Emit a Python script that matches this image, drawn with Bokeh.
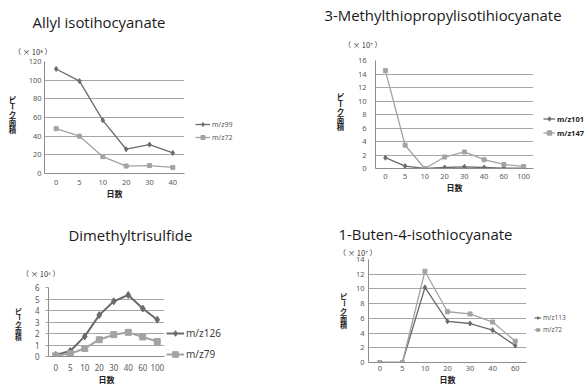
import math
from bokeh.plotting import figure
from bokeh.models import Legend, LegendItem, Range1d, FixedTicker, Title, Label
from bokeh.embed import file_html
from bokeh.resources import INLINE

# ---------------- data ----------------
allyl_days = ["0", "5", "10", "20", "30", "40"]
allyl_mz99 = [112, 99, 57, 26, 31, 22]
allyl_mz72 = [48, 40, 18, 8, 8.5, 6.5]
allyl_yticks = [0, 20, 40, 60, 80, 100, 120]

mtp_days = ["0", "5", "10", "20", "30", "40", "60", "100"]
mtp_mz101 = [1.6, 0.35, 0.0, 0.15, 0.25, 0.15, 0.05, 0.05]
mtp_mz147 = [14.5, 3.45, 0.0, 1.7, 2.45, 1.3, 0.6, 0.3]
mtp_yticks = [0, 2, 4, 6, 8, 10, 12, 14, 16]

dmts_days = ["0", "5", "10", "20", "30", "40", "60", "100"]
dmts_mz126 = [0.14, 0.48, 1.75, 3.6, 4.8, 5.35, 4.17, 3.2]
dmts_mz79 = [0.06, 0.25, 0.7, 1.46, 1.9, 2.1, 1.7, 1.3]
dmts_yticks = [0, 1, 2, 3, 4, 5, 6]

bitc_days = ["0", "5", "10", "20", "30", "40", "60"]
bitc_mz113 = [0, 0, 10.2, 5.6, 5.3, 4.4, 2.3]
bitc_mz72 = [0, 0, 12.4, 6.9, 6.6, 5.5, 2.9]
bitc_yticks = [0, 2, 4, 6, 8, 10, 12, 14]

YLABEL = "ピーク面積"   # written vertically, one character under another
XLABEL = "日数"

DARK = "#6b6b6b"
LIGHT = "#a3a3a3"
GRID = "#a6a6a6"
AXIS = "#8c8c8c"
TICK = "#595959"
JP = "Noto Sans CJK JP"
WIN_W, WIN_H = 587, 387
POS = {"position": "absolute", "left": "0px", "top": "0px"}

# transparent overlay (whole window = its frame) carrying legends and the
# vertical axis titles, which sit outside the plot frames
ov = figure(width=WIN_W, height=WIN_H, x_range=mtp_days, y_range=Range1d(1000, 1100),
            output_backend="svg", toolbar_location=None, title=None,
            min_border=0, x_axis_location=None, y_axis_location=None, styles=POS)
ov.grid.visible = False
ov.outline_line_color = None
ov.background_fill_alpha = 0
ov.border_fill_alpha = 0


def panel(title, days, s1, s2, names, yticks, exp_text, fl, fr, ft, fb,
          t_off, t_std, e_off, e_std, y_std, yl_x, yl_top, yl_step, yl_fs,
          x_std, xl_std, leg_xy, leg_fs, leg_h, leg_spacing, glyph_w, ms, lw,
          tick_fs, leg_color="#595959", leg_bold=False, yticks_out=0):
    # full-window transparent figure; min borders place its frame
    p = figure(width=WIN_W, height=WIN_H, x_range=days,
               y_range=Range1d(yticks[0], yticks[-1]),
               output_backend="svg", toolbar_location=None, styles=POS,
               min_border_left=fl, min_border_right=WIN_W - fr,
               min_border_top=ft, min_border_bottom=WIN_H - fb)
    p.outline_line_color = None
    p.background_fill_alpha = 0
    p.border_fill_alpha = 0

    p.title.text = title
    p.title.text_font = "Open Sans"
    p.title.text_font_size = "14.9px"
    p.title.text_font_style = "normal"
    p.title.text_color = "#1a1a1a"
    p.title.align = "left"
    p.title.offset = t_off
    p.title.standoff = t_std

    # exponent note, stacked right above the frame
    p.add_layout(Title(text=exp_text, text_font=JP, text_font_size="7.5px",
                       text_font_style="normal", text_color="#333333",
                       align="left", offset=e_off, standoff=e_std), "above")

    p.xgrid.grid_line_color = None
    p.ygrid.grid_line_color = GRID
    p.ygrid.grid_line_width = 1

    p.yaxis.ticker = FixedTicker(ticks=yticks)
    p.yaxis.major_tick_line_color = GRID if yticks_out else None
    p.yaxis.major_tick_out = yticks_out
    p.yaxis.major_tick_in = 0
    p.yaxis.minor_tick_line_color = None
    p.yaxis.minor_tick_out = 0
    p.yaxis.axis_line_color = AXIS
    p.yaxis.major_label_text_font = "Noto Sans"
    p.yaxis.major_label_text_font_size = tick_fs
    p.yaxis.major_label_text_color = TICK
    p.yaxis.major_label_standoff = y_std

    p.xaxis.major_tick_line_color = None
    p.xaxis.major_tick_out = 0
    p.xaxis.major_tick_in = 0
    p.xaxis.minor_tick_line_color = None
    p.xaxis.minor_tick_out = 0
    p.xaxis.axis_line_color = AXIS
    p.xaxis.major_label_text_font = "Noto Sans"
    p.xaxis.major_label_text_font_size = tick_fs
    p.xaxis.major_label_text_color = TICK
    p.xaxis.major_label_standoff = x_std
    p.xaxis.axis_label = XLABEL
    p.xaxis.axis_label_text_font = JP
    p.xaxis.axis_label_text_font_size = "8px"
    p.xaxis.axis_label_text_font_style = "bold"
    p.xaxis.axis_label_text_color = "#222222"
    p.xaxis.axis_label_standoff = xl_std

    p.line(days, s1, line_color=DARK, line_width=lw)
    p.scatter(days, s1, marker="diamond", size=ms + 1, color=DARK)
    p.line(days, s2, line_color=LIGHT, line_width=lw)
    p.scatter(days, s2, marker="square", size=ms, color=LIGHT)

    # vertical y-axis title (one character per line, long-vowel mark turned)
    for i, ch in enumerate(YLABEL):
        ov.add_layout(Label(x=yl_x, y=WIN_H - (yl_top + i * yl_step),
                            x_units="screen", y_units="screen", text=ch,
                            text_font=JP, text_font_size=yl_fs,
                            text_font_style="bold", text_color="#222222",
                            text_align="center", text_baseline="middle",
                            angle=(math.pi / 2 if ch == "ー" else 0)))

    # legend copies live on the overlay (their data falls outside its range)
    l1 = ov.line(days, s1, line_color=DARK, line_width=lw)
    m1 = ov.scatter(days, s1, marker="diamond", size=ms + 1, color=DARK)
    l2 = ov.line(days, s2, line_color=LIGHT, line_width=lw)
    m2 = ov.scatter(days, s2, marker="square", size=ms, color=LIGHT)
    leg = Legend(items=[LegendItem(label=names[0], renderers=[l1, m1]),
                        LegendItem(label=names[1], renderers=[l2, m2])],
                 location=leg_xy, padding=0, margin=0, spacing=leg_spacing,
                 glyph_width=glyph_w, glyph_height=leg_h, label_height=leg_h,
                 label_standoff=2, background_fill_alpha=0,
                 border_line_color=None, label_text_font="Noto Sans",
                 label_text_font_size=leg_fs, label_text_color=leg_color,
                 label_text_font_style="bold" if leg_bold else "normal")
    ov.add_layout(leg)
    return p


p1 = panel("Allyl isotihocyanate", allyl_days, allyl_mz99, allyl_mz72,
           ["m/z99", "m/z72"], allyl_yticks, "（ × 10⁸ ）",
           44, 184, 61, 173,
           t_off=-12, t_std=14, e_off=-31, e_std=10, y_std=3,
           yl_x=12, yl_top=98.5, yl_step=7.5, yl_fs="7.5px",
           x_std=6, xl_std=0,
           leg_xy=(195, 245), leg_fs="7px", leg_h=10, leg_spacing=3, glyph_w=15,
           ms=4, lw=1.3, tick_fs="7.5px")

p2 = panel("3-Methylthiopropylisotihiocyanate", mtp_days, mtp_mz101, mtp_mz147,
           ["m/z101", "m/z147"], mtp_yticks, "（ × 10⁷ ）",
           375, 533, 59, 168,
           t_off=-51, t_std=4, e_off=-32, e_std=21, y_std=9,
           yl_x=340, yl_top=95.8, yl_step=7.6, yl_fs="7.5px",
           x_std=5, xl_std=0,
           leg_xy=(543, 249), leg_fs="7.5px", leg_h=11, leg_spacing=3, glyph_w=12,
           ms=4, lw=1.3, tick_fs="7.5px", leg_color="#262626", leg_bold=True)

p3 = panel("Dimethyltrisulfide", dmts_days, dmts_mz126, dmts_mz79,
           ["m/z126", "m/z79"], dmts_yticks, "（ × 10⁶ ）",
           48, 164, 287, 358,
           t_off=20, t_std=24, e_off=-27, e_std=18, y_std=6,
           yl_x=18, yl_top=310, yl_step=6.6, yl_fs="6.8px",
           x_std=7, xl_std=0,
           leg_xy=(166, 26), leg_fs="10px", leg_h=14, leg_spacing=7, glyph_w=18,
           ms=6, lw=2, tick_fs="8px", leg_color="#404040", yticks_out=3)

p4 = panel("1-Buten-4-isothiocyanate", bitc_days, bitc_mz113, bitc_mz72,
           ["m/z113", "m/z72"], bitc_yticks, "（ × 10⁷ ）",
           368, 526, 259, 363,
           t_off=-30, t_std=-3, e_off=-30, e_std=4, y_std=4,
           yl_x=343, yl_top=295.6, yl_step=7.2, yl_fs="7.2px",
           x_std=3, xl_std=0,
           leg_xy=(534, 53), leg_fs="6.5px", leg_h=9, leg_spacing=3, glyph_w=7,
           ms=4, lw=1.3, tick_fs="7.5px")

open("out.html", "w").write(file_html([p1, p2, p3, p4, ov], INLINE))
